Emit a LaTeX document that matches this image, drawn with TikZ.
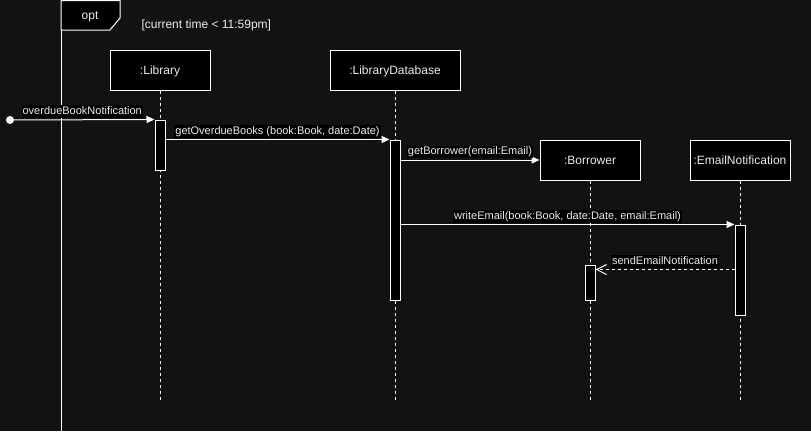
\documentclass[tikz,border=0pt]{standalone}
\usepackage{fontspec}
\setmainfont{Liberation Sans}
\usetikzlibrary{arrows.meta,calc}
\definecolor{bg}{RGB}{18,18,18}
\definecolor{fg}{RGB}{236,236,236}
\begin{document}
\begin{tikzpicture}[x=1pt,y=-1pt,line width=1pt,
  obj/.style={draw=white,fill=black,text=fg,minimum width=100pt,minimum height=40pt,inner sep=0pt,
    font=\fontsize{12}{14}\selectfont,text height=9pt,text depth=1pt},
  actbar/.style={draw=white,fill=black,minimum width=10pt,inner sep=0pt},
  life/.style={draw=white,dash pattern=on 3pt off 3pt},
  msg/.style={draw=white,-{Triangle[length=8pt,width=7pt]}},
  ret/.style={draw=white,dash pattern=on 3pt off 3pt,-{Straight Barb[length=10pt,width=10pt]}},
  lbl/.style={fill=black,text=fg,font=\fontsize{11}{13}\selectfont,inner sep=1pt,text height=8pt,text depth=2.5pt},
  plain/.style={text=fg,inner sep=0pt}]
\fill[bg] (0,0) rectangle (811,431);
\useasboundingbox (0,0) rectangle (811,431);
% opt frame
\draw[white] (61,0) -- (61,432);
\draw[white,fill=black] (61,0.5) -- (120,0.5) -- (120,18) -- (110,30) -- (61,30) -- cycle;
\node[plain,font=\fontsize{12}{14}\selectfont,anchor=base] (optlbl) at (90,19.5) {opt};
\node[plain,font=\fontsize{12}{14}\selectfont,anchor=base west] (guard) at (141,28) {[current time < 11:59pm]};
% objects
\node[obj] (lib) at (160,70) {:Library};
\node[obj,minimum width=130pt] (db) at (395,70) {:LibraryDatabase};
\node[obj] (bor) at (590,160) {:Borrower};
\node[obj] (em) at (740,160) {:EmailNotification};
% lifeline ends
\coordinate (libend) at (160,400);
\coordinate (dbend) at (395,400);
\coordinate (borend) at (590,400);
\coordinate (emend) at (740,400);
\draw[life] (lib.south) -- (libend);
\draw[life] (db.south) -- (dbend);
\draw[life] (bor.south) -- (borend);
\draw[life] (em.south) -- (emend);
% activations
\node[actbar,minimum height=50pt] (libact) at (160,145) {};
\node[actbar,minimum height=160pt] (dbact) at (395,220) {};
\node[actbar,minimum height=35pt] (boract) at (590,282.5) {};
\node[actbar,minimum height=90pt] (emact) at (740,270) {};
% messages
\node[circle,fill=white,minimum size=8pt,inner sep=0pt] (start) at (10,120) {};
\draw[msg] (start.center) -- (libact.north west)
  node[lbl,midway,above=1.5pt] {overdueBookNotification};
\draw[msg] (dbact.north west -| libact.east) -- (dbact.north west)
  node[lbl,midway,above=1.5pt] {getOverdueBooks (book:Book, date:Date)};
\draw[msg] (bor.west -| dbact.east) -- (bor.west)
  node[lbl,midway,above=1.5pt] {getBorrower(email:Email)};
\draw[msg] (emact.north west -| dbact.east) -- (emact.north west)
  node[lbl,midway,above=1.5pt] {writeEmail(book:Book, date:Date, email:Email)};
\coordinate (retto) at ($(boract.north east)+(0,5)$);
\draw[ret] (retto -| emact.west) -- (retto)
  node[lbl,midway,above=1.5pt] {sendEmailNotification};
\end{tikzpicture}
\end{document}
